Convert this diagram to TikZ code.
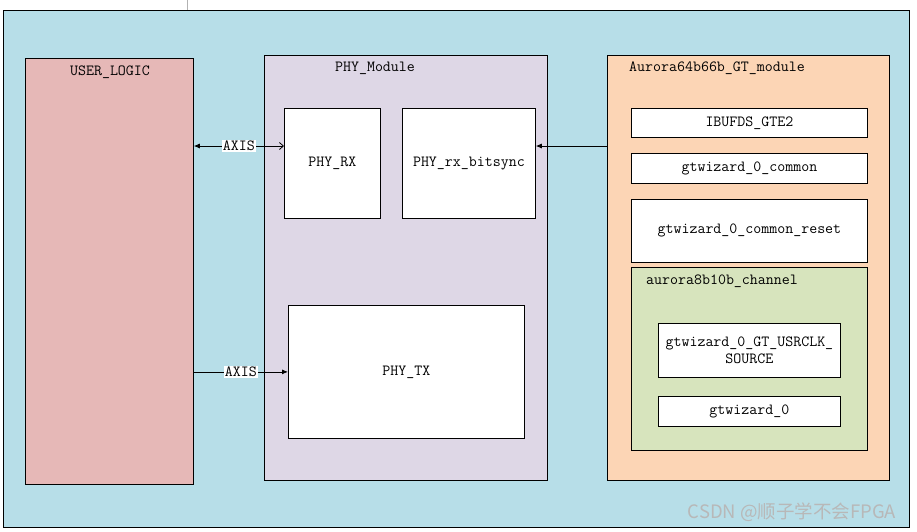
\documentclass[tikz,border=0pt]{standalone}
\usepackage{fontspec}
\usepackage{xcolor}
\usepackage{tikz}
\usetikzlibrary{arrows.meta, positioning, calc}
\newfontfamily\cjkfont{Noto Sans CJK SC}
\definecolor{bgblue}{RGB}{183,222,232}
\definecolor{userpink}{RGB}{230,184,183}
\definecolor{phylav}{RGB}{222,215,230}
\definecolor{gtpeach}{RGB}{252,213,181}
\definecolor{chgreen}{RGB}{215,228,189}
\tikzset{
    box/.style={rectangle, draw, line width=0.8pt, fill=white, inner sep=0pt, anchor=north west,
        font=\fontsize{15.5}{17}\selectfont\ttfamily, align=center},
    container/.style={rectangle, draw, line width=0.8pt, inner sep=0pt, anchor=north west},
    lbl/.style={inner sep=0pt, font=\fontsize{15.5}{17}\selectfont\ttfamily},
    axislbl/.style={fill=white, inner sep=1pt, font=\fontsize{15.5}{17}\selectfont\ttfamily},
    arrow/.style={line width=0.8pt}
}

\begin{document}
\begin{tikzpicture}[x=1pt, y=-1pt]
    \useasboundingbox (0,0) rectangle (917,531);
    \fill[white] (0,0) rectangle (917,531);
    \draw[gray!60, line width=0.8pt] (187,0) -- (187,10);

    % Outer frame
    \node[container, fill=bgblue, minimum width=906pt, minimum height=517pt] (top) at (3,10) {};

    % User side
    \node[container, fill=userpink, minimum width=168pt, minimum height=426pt] (userlogic) at (25,58) {};
    \node[lbl] (userlbl) at (110,72) {USER\_LOGIC};

    % PHY
    \node[container, fill=phylav, minimum width=283pt, minimum height=425pt] (phy) at (264,55) {};
    \node[lbl] (phylbl) at (375,68) {PHY\_Module};
    \node[box, minimum width=96pt, minimum height=110pt] (phyrx) at (284,108) {PHY\_RX};
    \node[box, minimum width=133pt, minimum height=110pt] (bitsync) at (402,108) {PHY\_rx\_bitsync};
    \node[box, minimum width=236pt, minimum height=133pt] (phytx) at (288,305) {PHY\_TX};

    % GT module
    \node[container, fill=gtpeach, minimum width=282pt, minimum height=425pt] (aurora) at (607,55) {};
    \node[lbl] (auroralbl) at (717,68) {Aurora64b66b\_GT\_module};
    \node[box, minimum width=236pt, minimum height=29pt] (ibufds) at (631,108) {IBUFDS\_GTE2};
    \node[box, minimum width=236pt, minimum height=30pt] (common) at (631,153) {gtwizard\_0\_common};
    \node[box, minimum width=236pt, minimum height=63pt] (commonrst) at (631,199) {gtwizard\_0\_common\_reset};
    \node[container, fill=chgreen, minimum width=236pt, minimum height=183pt] (channel) at (631,267) {};
    \node[lbl] (channellbl) at (722,281) {aurora8b10b\_channel};
    \node[box, minimum width=182pt, minimum height=54pt] (usrclk) at (658,323) {gtwizard\_0\_GT\_USRCLK\_\\SOURCE};
    \node[box, minimum width=182pt, minimum height=30pt] (gtwiz) at (658,396) {gtwizard\_0};

    % Connections
    \coordinate (rxline) at (400,146);
    \draw[arrow, {Latex[length=6pt,width=5pt]}-{Straight Barb[length=4pt,width=7pt]}]
        (userlogic.east |- rxline) -- node[axislbl] {AXIS} (phyrx.west |- rxline);
    \draw[arrow, -{Latex[length=6pt,width=5pt]}]
        (userlogic.east |- phytx.west) -- node[axislbl] {AXIS} (phytx.west);
    \draw[arrow, -{Latex[length=6pt,width=5pt]}] (aurora.west |- rxline) -- (bitsync.east |- rxline);

    % Watermark
    \node[inner sep=0pt, text=black!28, font=\cjkfont\fontsize{18.5}{20}\selectfont] (mark) at (792,512) {CSDN @顺子学不会FPGA};
\end{tikzpicture}
\end{document}
